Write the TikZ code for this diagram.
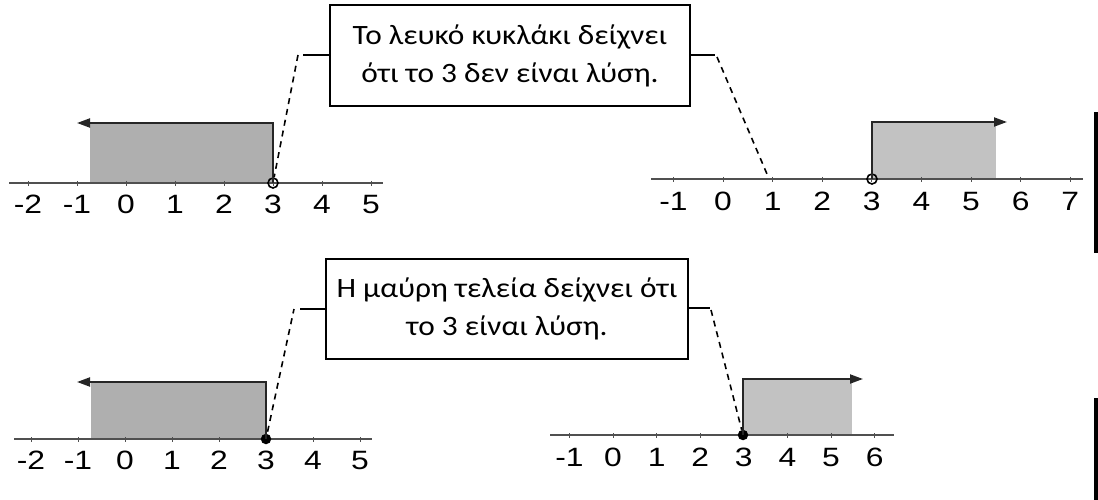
\documentclass[tikz,border=0pt]{standalone}
\usepackage{fontspec}
\setmainfont{Carlito}[FakeStretch=1.12]
\newfontfamily\numfont{Liberation Sans}[FakeStretch=1.2]
\usepackage{tikz}
\usetikzlibrary{arrows.meta,calc}
\definecolor{shadeA}{HTML}{AFAFAF}
\definecolor{shadeB}{HTML}{C2C2C2}
\definecolor{axisgray}{HTML}{505050}

\begin{document}
\begin{tikzpicture}[x=1pt,y=-1pt,
  axis/.style={axisgray,line width=1.3pt},
  tickmark/.style={axisgray,line width=1pt},
  num/.style={anchor=base,inner sep=0pt,font=\numfont\fontsize{26.5}{30}\selectfont},
  bound/.style={line width=2pt,black!85,-{Triangle[length=13pt,width=9pt]}},
  callout/.style={draw,line width=2pt,align=center,inner sep=0pt,
    font=\fontsize{28}{38}\selectfont},
  lead/.style={line width=1.6pt},
  leaddash/.style={line width=1.6pt,dash pattern=on 6pt off 5pt},
  hollow/.style={circle,draw,line width=1.6pt,inner sep=0pt,minimum size=10pt},
  solid dot/.style={circle,fill,inner sep=0pt,minimum size=10.5pt}]
\useasboundingbox (0,0) rectangle (1098,500);

% x < 3, open circle
\fill[shadeA] (90,123) rectangle (273,183);
\draw[axis] (9,183) -- (383,183);
\foreach \n in {-2,...,5}{
  \draw[tickmark] (126+49*\n,181) -- (126+49*\n,186);
  \node[num] (numA\n) at (126+49*\n,213) {\n};}
\node[hollow] (open1) at (273,183) {};
\coordinate (tipA) at (77,123);
\draw[bound] (open1.center) |- (tipA);

% x > 3, open circle
\fill[shadeB] (872,122) rectangle (996,179);
\draw[axis] (651,179) -- (1083,179);
\foreach \n in {-1,...,7}{
  \draw[tickmark] (723+49.6*\n,177) -- (723+49.6*\n,182);
  \node[num] (numB\n) at (723+49.6*\n,210) {\n};}
\node[hollow] (open2) at (872,179) {};
\coordinate (tipB) at (1007,122);
\draw[bound] (open2.center) |- (tipB);

% x <= 3, black dot
\fill[shadeA] (91,382) rectangle (266,439);
\draw[axis] (14,439) -- (372,439);
\foreach \n in {-2,...,5}{
  \draw[tickmark] (125+47*\n,437) -- (125+47*\n,442);
  \node[num] (numC\n) at (125+47*\n,469) {\n};}
\node[solid dot] (dot1) at (266,439) {};
\coordinate (tipC) at (77,382);
\draw[bound] (dot1.center) |- (tipC);

% x >= 3, black dot
\fill[shadeB] (743,379) rectangle (852,435);
\draw[axis] (550,435) -- (894,435);
\foreach \n in {-1,...,6}{
  \draw[tickmark] (613+43.6*\n,433) -- (613+43.6*\n,438);
  \node[num] (numD\n) at (613+43.6*\n,466) {\n};}
\node[solid dot] (dot2) at (743,435) {};
\coordinate (tipD) at (863,379);
\draw[bound] (dot2.center) |- (tipD);

% callouts
\node[callout,minimum width=360pt,minimum height=101pt] (box1) at (510,55.5)
  {Το λευκό κυκλάκι δείχνει\\ότι το 3 δεν είναι λύση.};
\coordinate (k1a) at (303,55);
\coordinate (k1b) at (298,55);
\coordinate (k2a) at (715,55);
\coordinate (k2b) at (717,57);
\coordinate (end1) at (767,174);
\draw[lead] (box1.west|-k1a) -- (k1a);
\draw[leaddash] (k1b) -- (open1);
\draw[lead] (box1.east|-k2a) -- (k2a);
\draw[leaddash] (k2b) -- (end1);

\node[callout,minimum width=362pt,minimum height=100pt] (box2) at (507,309)
  {Η μαύρη τελεία δείχνει ότι\\το 3 είναι λύση.};
\coordinate (k3a) at (300,309);
\coordinate (k3b) at (294,309);
\coordinate (k4a) at (710,308);
\coordinate (k4b) at (711,310);
\draw[lead] (box2.west|-k3a) -- (k3a);
\draw[leaddash,shorten <=2pt] (dot1) -- (k3b);
\draw[lead] (box2.east|-k4a) -- (k4a);
\draw[leaddash] (k4b) -- (dot2);

\fill (1094,112) rectangle (1098,253);
\fill (1094,398) rectangle (1098,500);
\end{tikzpicture}
\end{document}
